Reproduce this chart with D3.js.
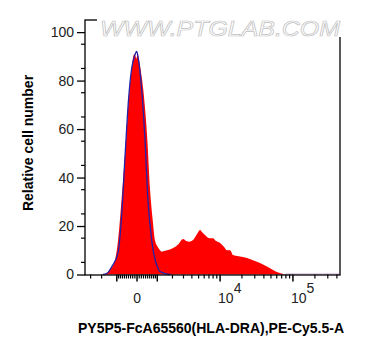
<!DOCTYPE html>
<html><head><meta charset="utf-8">
<script src="https://cdn.jsdelivr.net/npm/d3@7/dist/d3.min.js"></script>
<style>body{margin:0;background:#fff}svg{display:block;font-family:"Liberation Sans",Arial,sans-serif}</style>
</head><body><svg id="c" width="367" height="356"></svg>
<script>
// Fluorescence intensity (PE-Cy5.5-A) and relative cell number (%)
const sampleX = [-1894,-1742,-1404,-1101,-931,-705,-519,-359,-250,-185,-120,-70,-30,20,60,139,293,485,619,760,878,1020,1161,1261,1469,1750,2051,2500,2961,3300,3633,4163,4700,5248,5700,6170,7025,7990,8800,10000,11300,12490,13750,15110,18000,23530,29000,35480,44000,53510,63000,73300,80600,150000,441000];
const sampleY = [0,0.3,2,6,14,35,55.5,76,85,89.5,91,90,89,91,90,86,76,55.5,35,22,14,11.5,10,9.4,9.8,10.2,10.9,12.5,14.6,13.8,13.5,14.2,16.5,18.4,17.2,16.3,15,15,13.8,13,11.5,10,10,8,7.5,6.8,5.8,4.7,3.3,1.9,0.8,0.2,0,0,0];
const controlX = [-1894,-1600,-1299,-931,-760,-560,-400,-250,-120,-16,60,218,374,485,705,824,1044,1161,1469,1825];
const controlY = [0,0.5,3.2,9,22,50,72,85,90,92,89,76,55.5,35,14,8,2.5,1.2,0.4,0];
const yTicks = [0,20,40,60,80,100];
const xMajor = [-1000,0,1000,10000,100000];
const xLabels = [{v:0,base:"0",exp:""},{v:10000,base:"10",exp:"4"},{v:100000,base:"10",exp:"5"}];
const xMinor = [-3000,-2000,-900,-800,-700,-600,-500,-400,-300,-200,-100,100,200,300,400,500,600,700,800,900,2000,3000,4000,5000,6000,7000,8000,9000,20000,30000,40000,50000,60000,70000,80000,90000,200000,300000,400000];

const C=1466;
const T = v => Math.asinh(v/C);
const L=85,R=340,TOP=20,BOT=274.5;
const xs = d3.scaleLinear().domain([T(-3640),T(441000)]).range([L,R]);
const x = v => xs(T(v));
const y = d3.scaleLinear().domain([0,105]).range([BOT,TOP]);

const svg=d3.select("#c");
const g=svg.append("g");

const sample = sampleX.map((v,i)=>[v,sampleY[i]]);
const control = controlX.map((v,i)=>[v,controlY[i]]);
const area=d3.area().x(d=>x(d[0])).y0(y(0)).y1(d=>y(d[1])).curve(d3.curveMonotoneX);
const line=d3.line().x(d=>x(d[0])).y(d=>y(d[1])).curve(d3.curveMonotoneX);

g.append("path").datum(sample).attr("d",area).attr("fill","#ff0000");
g.append("line").attr("x1",x(80600)).attr("x2",R).attr("y1",BOT-0.5).attr("y2",BOT-0.5).attr("stroke","#c8a0d8").attr("stroke-width",1);
g.append("path").datum(control).attr("d",line).attr("fill","none").attr("stroke","#2222a8").attr("stroke-width",1.3);

// frame
g.append("rect").attr("x",L).attr("y",TOP).attr("width",R-L).attr("height",BOT-TOP+0.5).attr("fill","none").attr("stroke","#000").attr("stroke-width",1.3);

// y axis
const yAxis=d3.axisLeft(y).tickValues(yTicks).tickSize(8).tickPadding(3).tickFormat(d3.format("d"));
const ya=g.append("g").attr("transform",`translate(${L},0)`).call(yAxis);
ya.select(".domain").remove();
ya.selectAll("line").attr("stroke-width",1.3);
ya.selectAll("text").attr("font-size",14).attr("fill","#222").attr("font-family","Liberation Sans,Arial,sans-serif");
const yMinor=d3.range(5,105,10);
g.selectAll(".ym").data(yMinor).join("line").attr("x1",L-4).attr("x2",L).attr("y1",d=>y(d)).attr("y2",d=>y(d)).attr("stroke","#000").attr("stroke-width",1.2);

// x axis ticks
g.selectAll(".xM").data(xMajor).join("line").attr("x1",d=>x(d)).attr("x2",d=>x(d)).attr("y1",BOT).attr("y2",BOT+7).attr("stroke","#000").attr("stroke-width",1.5);
g.selectAll(".xm").data(xMinor).join("line").attr("x1",d=>x(d)).attr("x2",d=>x(d)).attr("y1",BOT).attr("y2",BOT+4).attr("stroke","#000").attr("stroke-width",1.2);
const xl=g.selectAll(".xl").data(xLabels).join("text")
  .attr("x",d=>d.exp?x(d.v)-2:x(d.v)).attr("y",303).attr("text-anchor",d=>d.exp?"start":"middle")
  .attr("font-size",14).attr("fill","#222");
xl.append("tspan").text(d=>d.base);
xl.append("tspan").attr("dy",-10).text(d=>d.exp);

// watermark
g.append("rect").attr("x",97).attr("y",18).attr("width",246).attr("height",19).attr("fill","#fff");
g.append("text").attr("x",100).attr("y",36).attr("textLength",240).attr("lengthAdjust","spacingAndGlyphs")
  .attr("font-size",22).attr("font-style","italic").attr("fill","#fff").attr("stroke","#c0c0c0").attr("stroke-width",0.7)
  .text("WWW.PTGLAB.COM");

// axis titles
svg.append("text").attr("transform","translate(33,143) rotate(-90)").attr("text-anchor","middle")
  .attr("font-size",14).attr("font-weight","bold").text("Relative cell number");
svg.append("text").attr("x",211).attr("y",333).attr("text-anchor","middle")
  .attr("font-size",14).attr("font-weight","bold").text("PY5P5-FcA65560(HLA-DRA),PE-Cy5.5-A");
</script></body></html>
